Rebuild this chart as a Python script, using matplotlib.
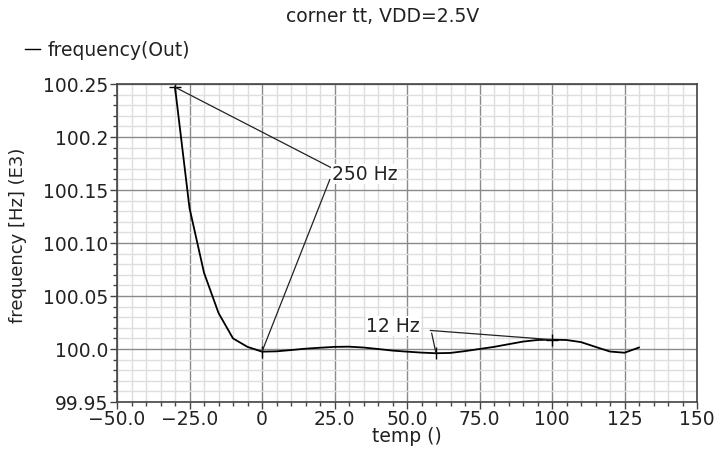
import numpy as np
import matplotlib
matplotlib.use('Agg')
import matplotlib.pyplot as plt
from matplotlib.ticker import MultipleLocator, FixedLocator, FixedFormatter

# --- datos (temp en C, frecuencia en kHz) ---
temp = [-30, -25, -20, -15, -10, -5, 0, 5, 10, 15, 20, 25, 30, 35, 40, 45, 50,
        55, 60, 65, 70, 75, 80, 85, 90, 95, 100, 105, 110, 115, 120, 125, 130]
freq = [100.247, 100.133, 100.072, 100.034, 100.010, 100.002, 99.9975, 99.9978,
        99.999, 100.0003, 100.0012, 100.002, 100.0022, 100.0014, 100.0, 99.9985,
        99.9975, 99.9966, 99.996, 99.9963, 99.998, 100.0, 100.002, 100.0045,
        100.007, 100.0085, 100.0088, 100.0085, 100.0065, 100.002, 99.9976,
        99.9965, 100.0014]

xticks = [-50, -25, 0, 25, 50, 75, 100, 125, 150]
xlabels = ['\u221250.0', '\u221225.0', '0', '25.0', '50.0', '75.0', '100', '125', '150']
yticks = [99.95, 100.0, 100.05, 100.10, 100.15, 100.2, 100.25]
ylabels = ['99.95', '100.0', '100.05', '100.10', '100.15', '100.2', '100.25']

# marcas de las anotaciones (indices en los datos)
i_max, i_min = 0, 6        # 250 Hz
j_max, j_min = 26, 18      # 12 Hz

temp = np.array(temp)
freq = np.array(freq)

txt = '#222222'
fs = 13.5

fig = plt.figure(figsize=(7.19, 4.5), dpi=100)
ax = fig.add_axes([117/719, 1-402/450, 580/719, 318/450])

linea, = ax.plot(temp, freq, color='black', lw=1.3, label='frequency(Out)', zorder=3)

ax.set_xlim(-50, 150)
ax.set_ylim(99.95, 100.25)
ax.xaxis.set_major_locator(FixedLocator(xticks))
ax.xaxis.set_major_formatter(FixedFormatter(xlabels))
ax.yaxis.set_major_locator(FixedLocator(yticks))
ax.yaxis.set_major_formatter(FixedFormatter(ylabels))
ax.xaxis.set_minor_locator(MultipleLocator(5))
ax.yaxis.set_minor_locator(MultipleLocator(0.01))

ax.grid(which='minor', color='#dedede', lw=1, zorder=0)
ax.grid(which='major', color='#8a8a8a', lw=1, zorder=1)
ax.set_axisbelow(True)
for s in ax.spines.values():
    s.set_color('#444444')
    s.set_linewidth(1.2)
ax.tick_params(which='major', direction='out', length=5, width=1, color='#444444',
               labelsize=fs, labelcolor=txt, pad=1)
ax.tick_params(which='minor', direction='out', length=3, width=1, color='#444444')

# --- anotaciones ---
lp = dict(arrowstyle='-', color='#222222', lw=0.9, shrinkA=0, shrinkB=0)
ax.annotate('', xy=(temp[i_max], freq[i_max]), xytext=(23.9, 100.171), arrowprops=lp)
ax.annotate('', xy=(temp[i_min], freq[i_min]), xytext=(23.4, 100.160), arrowprops=lp)
ax.plot(temp[i_max], freq[i_max], marker='+', color='black', ms=8, mew=1)
ax.plot(temp[i_min], freq[i_min], marker='|', color='black', ms=8, mew=1)
ax.text(24.2, 100.165, '250 Hz', fontsize=fs, color=txt, va='center', ha='left',
        bbox=dict(facecolor='white', edgecolor='none', pad=0.5), zorder=4)

ax.annotate('', xy=(temp[j_max], freq[j_max]), xytext=(58.0, 100.0175), arrowprops=lp)
ax.annotate('', xy=(temp[j_min], freq[j_min]), xytext=(58.5, 100.015), arrowprops=lp)
ax.plot(temp[j_max], freq[j_max], marker='+', color='black', ms=8, mew=1)
ax.plot(temp[j_min], freq[j_min], marker='|', color='black', ms=8, mew=1)
ax.text(36.0, 100.0215, '12 Hz', fontsize=fs, color=txt, va='center', ha='left',
        bbox=dict(facecolor='white', edgecolor='none', pad=0.5), zorder=4)

# --- textos ---
fig.text(383/719, 1-16/450, 'corner tt, VDD=2.5V', fontsize=fs, color=txt,
         ha='center', va='center')
fig.text(18/719, 1-235/450, 'frequency [Hz] (E3)', fontsize=fs-0.5, color=txt,
         rotation=90, ha='center', va='center')
fig.text(407/719, 1-437/450, 'temp ()', fontsize=fs, color=txt, ha='center', va='center')

fig.legend(handles=[linea], loc='center left', bbox_to_anchor=(25/719, 1-50/450),
           frameon=False, handlelength=0.8, handletextpad=0.4, borderpad=0,
           borderaxespad=0, fontsize=fs, labelcolor=txt)
linea_leg = fig.legends[0].get_lines()[0]
linea_leg.set_linewidth(1)

fig.savefig('out.png', dpi=100, facecolor='white')
